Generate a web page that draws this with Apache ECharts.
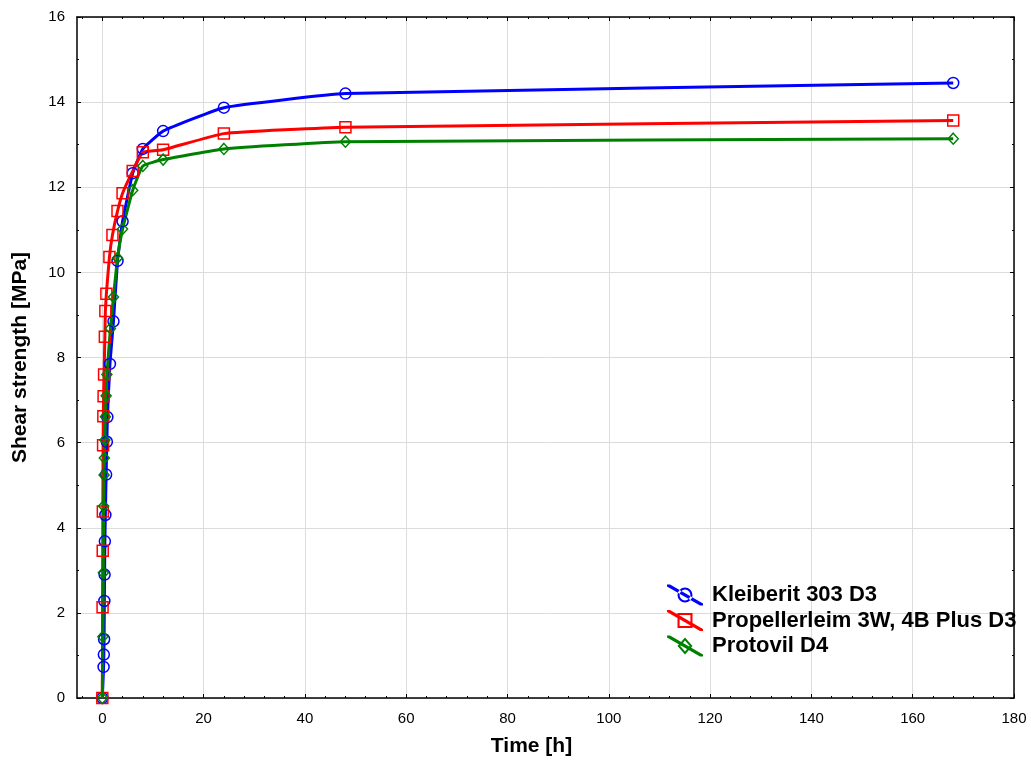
<!DOCTYPE html>
<html>
<head>
<meta charset="utf-8">
<title>Shear strength vs time</title>
<script src="https://cdn.jsdelivr.net/npm/echarts@6/dist/echarts.min.js"></script>
<style>
  html, body { margin: 0; padding: 0; background: #fff; }
  #chart { width: 1031px; height: 765px; }
</style>
</head>
<body>
<div id="chart"></div>
<script>
// values (time in hours, strength in MPa)
const kleiberitTime = [0, 0.25, 0.3, 0.35, 0.4, 0.45, 0.5, 0.6, 0.75, 0.9, 1, 1.5, 2.2, 3, 4, 6, 8, 12, 24, 48, 168];
const kleiberitValue = [0, 0.73, 1.02, 1.38, 2.28, 2.9, 3.68, 4.3, 5.25, 6.02, 6.6, 7.85, 8.85, 10.27, 11.2, 12.33, 12.9, 13.32, 13.87, 14.2, 14.45];

const propellerTime = [0, 0.05, 0.08, 0.1, 0.15, 0.2, 0.25, 0.35, 0.5, 0.6, 0.8, 1.4, 2, 3, 4, 6, 8, 12, 24, 48, 168];
const propellerValue = [0, 2.13, 3.46, 4.38, 5.94, 6.62, 7.09, 7.6, 8.49, 9.09, 9.5, 10.36, 10.88, 11.44, 11.86, 12.38, 12.82, 12.88, 13.26, 13.41, 13.57];

const protovilTime = [0, 0.1, 0.2, 0.25, 0.35, 0.4, 0.5, 0.6, 0.75, 0.9, 1.6, 2.2, 3, 4, 6, 8, 12, 24, 48, 168];
const protovilValue = [0, 1.44, 2.94, 4.51, 5.24, 5.64, 6.06, 6.61, 7.1, 7.6, 8.68, 9.42, 10.34, 11.02, 11.93, 12.5, 12.65, 12.9, 13.07, 13.14];

const seriesNames = ['Kleiberit 303 D3', 'Propellerleim 3W, 4B Plus D3', 'Protovil D4'];

const xMajorTicks = [0, 20, 40, 60, 80, 100, 120, 140, 160, 180];
const xMinorTicks = [-4, 4, 8, 12, 16, 24, 28, 32, 36, 44, 48, 52, 56, 64, 68, 72, 76, 84, 88, 92, 96,
  104, 108, 112, 116, 124, 128, 132, 136, 144, 148, 152, 156, 164, 168, 172, 176];

const FONT = '"Liberation Sans", Arial, sans-serif';

function pairs(xs, ys) {
  return xs.map((x, i) => [x, ys[i]]);
}

// legend icons: a slanted line with the marker on it (box 36 x 21)
const slant = 'M0,0 L3,0 L36,19 L36,21 L33,21 L0,2 Z ';
const iconCircle = slant + 'M25.5,10.5 A7.5,7.5 0 1,0 10.5,10.5 A7.5,7.5 0 1,0 25.5,10.5 Z M23.4,10.5 A5.4,5.4 0 1,1 12.6,10.5 A5.4,5.4 0 1,1 23.4,10.5 Z';
const iconSquare = slant + 'M10.5,3 L25.5,3 L25.5,18 L10.5,18 Z M12.6,5.1 L12.6,15.9 L23.4,15.9 L23.4,5.1 Z';
const iconDiamond = slant + 'M18,2 L25.5,10.5 L18,19 L10.5,10.5 Z M18,5 L13.3,10.5 L18,16 L22.7,10.5 Z';

function lineSeries(name, data, color, symbol, size) {
  return {
    name: name,
    type: 'line',
    data: data,
    smooth: 0.12,
    symbol: symbol,
    symbolSize: size,
    showAllSymbol: true,
    lineStyle: {color: color, width: 3},
    itemStyle: {color: 'rgba(0,0,0,0)', borderColor: color, borderWidth: 1.5},
    emphasis: {disabled: true},
    z: 3
  };
}

const sideAxis = {
  type: 'value',
  min: 0,
  max: 16,
  interval: 2,
  axisLine: {show: true, onZero: false, lineStyle: {color: '#000', width: 1.5}},
  axisTick: {show: true, inside: true, length: 4, lineStyle: {color: '#000'}},
  minorTick: {show: true, splitNumber: 2, length: 2, lineStyle: {color: '#000'}},
  axisLabel: {show: false},
  splitLine: {show: false}
};

const chart = echarts.init(document.getElementById('chart'));

chart.setOption({
  animation: false,
  backgroundColor: '#fff',
  grid: {left: 77, right: 17, top: 17, bottom: 67, containLabel: false, outerBoundsMode: 'none'},
  legend: {
    orient: 'vertical',
    left: 667,
    top: 584,
    padding: 0,
    itemWidth: 36,
    itemHeight: 21,
    itemGap: 3.5,
    selectedMode: false,
    textStyle: {fontFamily: FONT, fontSize: 22, fontWeight: 'bold', color: '#000', padding: [0, 0, 0, 4], lineHeight: 21},
    data: [
      {name: seriesNames[0], icon: 'path://' + iconCircle, itemStyle: {color: '#0000ff', borderWidth: 0}},
      {name: seriesNames[1], icon: 'path://' + iconSquare, itemStyle: {color: '#ff0000', borderWidth: 0}},
      {name: seriesNames[2], icon: 'path://' + iconDiamond, itemStyle: {color: '#008000', borderWidth: 0}}
    ]
  },
  xAxis: [
    {
      type: 'value',
      min: -5,
      max: 180,
      position: 'bottom',
      name: 'Time [h]',
      nameLocation: 'middle',
      nameGap: 38,
      nameTextStyle: {fontFamily: FONT, fontSize: 21, fontWeight: 'bold', color: '#000', padding: [0, 28, 0, 0]},
      axisLine: {show: true, onZero: false, lineStyle: {color: '#000', width: 1.5}},
      axisTick: {show: true, inside: true, length: 4, customValues: xMajorTicks, lineStyle: {color: '#000'}},
      axisLabel: {customValues: xMajorTicks, margin: 13, fontFamily: FONT, fontSize: 15, color: '#000'},
      splitLine: {show: true, lineStyle: {color: '#dcdcdc', width: 1}}
    },
    {
      // minor ticks along the bottom
      type: 'value', min: -5, max: 180, position: 'bottom',
      axisLine: {show: false, onZero: false},
      axisTick: {show: true, inside: true, length: 2, customValues: xMinorTicks, lineStyle: {color: '#000'}},
      axisLabel: {show: false},
      splitLine: {show: false}
    },
    {
      type: 'value', min: -5, max: 180, position: 'top',
      axisLine: {show: true, onZero: false, lineStyle: {color: '#000', width: 1.5}},
      axisTick: {show: true, inside: true, length: 4, customValues: xMajorTicks, lineStyle: {color: '#000'}},
      axisLabel: {show: false},
      splitLine: {show: false}
    },
    {
      type: 'value', min: -5, max: 180, position: 'top',
      axisLine: {show: false, onZero: false},
      axisTick: {show: true, inside: true, length: 2, customValues: xMinorTicks, lineStyle: {color: '#000'}},
      axisLabel: {show: false},
      splitLine: {show: false}
    }
  ],
  yAxis: [
    Object.assign({}, sideAxis, {
      position: 'left',
      name: 'Shear strength [MPa]',
      nameLocation: 'middle',
      nameGap: 46,
      nameTextStyle: {fontFamily: FONT, fontSize: 21, fontWeight: 'bold', color: '#000'},
      axisLabel: {show: true, margin: 12, fontFamily: FONT, fontSize: 15, color: '#000'},
      splitLine: {show: true, lineStyle: {color: '#dcdcdc', width: 1}}
    }),
    Object.assign({}, sideAxis, {position: 'right'})
  ],
  series: [
    lineSeries(seriesNames[0], pairs(kleiberitTime, kleiberitValue), '#0000ff', 'circle', 11),
    lineSeries(seriesNames[1], pairs(propellerTime, propellerValue), '#ff0000', 'rect', 11),
    lineSeries(seriesNames[2], pairs(protovilTime, protovilValue), '#008000', 'diamond', [10, 11])
  ]
});
</script>
</body>
</html>
